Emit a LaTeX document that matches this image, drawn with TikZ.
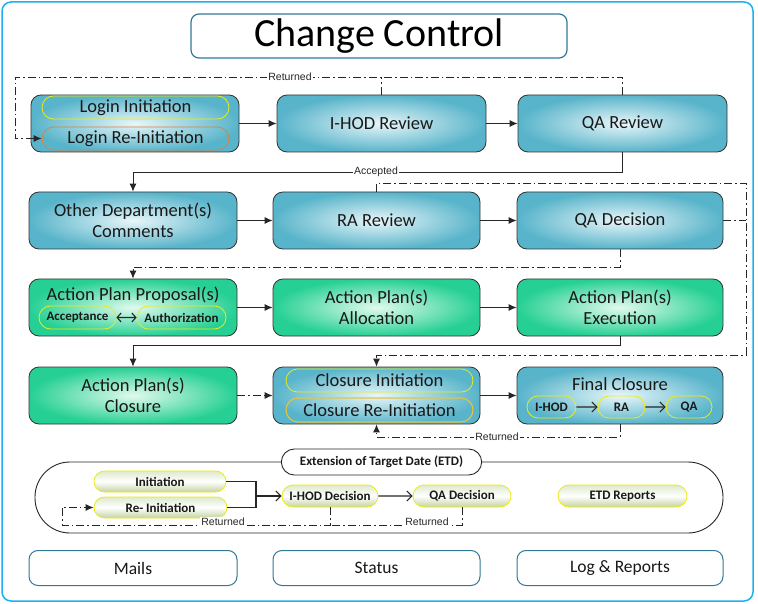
\documentclass[tikz,border=0pt]{standalone}
\usepackage{fontspec}
\setmainfont{Carlito}
\newfontfamily\arialf{Liberation Sans}
\usetikzlibrary{arrows.meta,shapes.misc}
\definecolor{bluedge}{RGB}{88,180,202}
\definecolor{bluein}{RGB}{232,246,249}
\definecolor{grnedge}{RGB}{38,208,148}
\definecolor{grnin}{RGB}{225,250,238}
\definecolor{teal}{RGB}{49,120,150}
\definecolor{framec}{RGB}{30,176,236}
\definecolor{pilly}{RGB}{236,236,20}
\definecolor{pillo}{RGB}{226,128,60}
\definecolor{pillg}{RGB}{228,196,64}
\definecolor{etdtop}{RGB}{222,234,205}
\definecolor{etdbot}{RGB}{196,212,160}
\definecolor{txt}{RGB}{25,25,25}
\tikzset{
  basebox/.style={draw=black!80, line width=0.8pt, rounded corners=10pt, minimum height=57pt,
    align=center, text=txt, font=\fontsize{18.5}{21}\selectfont, inner sep=2pt},
  bluebox/.style={basebox, inner color=bluein, outer color=bluedge},
  grnbox/.style={basebox, inner color=grnin, outer color=grnedge},
  boxtext/.style={text=txt, font=\fontsize{18.5}{21}\selectfont, inner sep=0pt},
  pill/.style={draw=pilly, line width=0.8pt, rounded rectangle, minimum height=23pt, text=txt,
    font=\fontsize{18.5}{21}\selectfont, inner sep=1pt},
  spill/.style={draw=pilly, line width=0.8pt, rounded rectangle, minimum height=22pt, text=txt,
    font=\bfseries\fontsize{13}{15}\selectfont, inner sep=1pt},
  etdpill/.style={draw=pilly, line width=0.8pt, rounded rectangle, minimum height=21pt, text=txt,
    top color=etdtop, bottom color=etdbot, middle color=white,
    font=\bfseries\fontsize{13}{15}\selectfont, inner sep=1pt},
  footbox/.style={draw=teal, line width=1pt, rounded corners=9pt, fill=white, minimum height=35pt,
    text=txt, font=\fontsize{17.5}{20}\selectfont},
  conn/.style={draw=black!85, line width=0.9pt},
  arr/.style={conn, -{Latex[length=8pt,width=7pt]}},
  barb/.style={conn, line width=1.1pt, -{Straight Barb[length=5pt,width=10pt]}},
  dd/.style={dash pattern=on 8pt off 3pt on 1.5pt off 3pt},
  lbl/.style={fill=white, inner sep=1pt, font=\arialf\fontsize{10.5}{12}\selectfont, text=black!85},
}
\begin{document}
\begin{tikzpicture}[x=1pt,y=-1pt]
\useasboundingbox (0,0) rectangle (758,604);
\draw[framec, line width=1.5pt, rounded corners=9pt] (2,2) rectangle (753,601);

% title
\node[draw=teal, line width=1.2pt, rounded corners=8pt, minimum width=376pt, minimum height=44pt,
  font=\fontsize{40}{44}\selectfont, text=black, inner sep=0pt] (title) at (379,36) {Change Control};

% row 1
\node[bluebox, minimum width=208pt] (login) at (135,123.5) {};
\node[pill, minimum width=189pt] (li) at (135.5,107.5) {Login Initiation};
\node[pill, draw=pillo, minimum width=189pt] (lri) at (135.5,138.5) {Login Re-Initiation};
\node[bluebox, minimum width=209pt] (ihod) at (381.5,123.5) {I-HOD Review};
\node[bluebox, minimum width=209pt] (qarev) at (622.5,123.5) {QA Review};

% row 2
\node[bluebox, minimum width=208pt] (other) at (133,220.5) {Other Department(s)\\Comments};
\node[bluebox, minimum width=207pt] (ra) at (376.5,220.5) {RA Review};
\node[bluebox, minimum width=206pt] (qadec) at (620,220.5) {QA Decision};

% row 3
\node[grnbox, minimum width=208pt] (app) at (133,307.5) {};
\node[boxtext] (apptxt) at (133,295) {Action Plan Proposal(s)};
\node[spill, minimum width=79pt, minimum height=23pt] (acc) at (77.5,317.5) {Acceptance};
\node[spill, minimum width=91pt, minimum height=23pt] (auth) at (181.5,317.5) {Authorization};
\node[grnbox, minimum width=207pt] (alloc) at (376.5,307.5) {Action Plan(s)\\Allocation};
\node[grnbox, minimum width=206pt] (exec) at (620,307.5) {Action Plan(s)\\Execution};

% row 4
\node[grnbox, minimum width=208pt] (apc) at (133,395.5) {Action Plan(s)\\Closure};
\node[bluebox, minimum width=207pt] (clos) at (376.5,395.5) {};
\node[pill, minimum width=189pt] (ci) at (379.5,380.5) {Closure Initiation};
\node[pill, draw=pillg, line width=1.1pt, minimum width=189pt, minimum height=24pt] (cri) at (379.5,410) {Closure Re-Initiation};
\node[bluebox, minimum width=206pt] (final) at (620,395.5) {};
\node[boxtext] (fintxt) at (620,384) {Final Closure};
\node[spill, minimum width=51pt] (fi) at (551.5,407) {I-HOD};
\node[spill, minimum width=49pt] (fr) at (621.5,407) {RA};
\node[spill, minimum width=48pt] (fq) at (689,407) {QA};

% ETD
\draw[black!85, line width=0.9pt, rounded corners=35pt] (35,462) rectangle (723,533);
\node[draw=black!85, line width=0.9pt, rounded rectangle, fill=white, minimum width=207pt, minimum height=26pt,
  font=\bfseries\fontsize{13}{15}\selectfont, text=txt] (etdl) at (381.5,462) {Extension of Target Date (ETD)};
\node[etdpill, minimum width=134pt] (init) at (160,481.5) {Initiation};
\node[etdpill, minimum width=135pt] (reinit) at (160.5,507.5) {Re- Initiation};
\node[etdpill, minimum width=98pt, minimum height=22pt] (ihodd) at (330,496) {I-HOD Decision};
\node[etdpill, minimum width=100pt, minimum height=22pt] (qad) at (462,496) {QA Decision};
\node[etdpill, minimum width=131pt, minimum height=22pt] (etdr) at (622.5,496) {ETD Reports};

% footer
\node[footbox, minimum width=208pt] (mails) at (133,568) {Mails};
\node[footbox, minimum width=207pt] (status) at (376.5,568) {Status};
\node[footbox, minimum width=206pt] (logs) at (620,568) {Log \& Reports};

% connectors row 1
\draw[arr] (login) -- (ihod);
\draw[arr] (ihod) -- (qarev);
\draw[arr, dd] (qarev.north) -- (qarev.north |- 0,77) -- (15,77) -- (15,138.5) -- (lri.west);
\draw[conn, dd] (ihod.north) -- (ihod.north |- 0,77);
\node[lbl] (ret1) at (290,77) {Returned};

% accepted
\draw[arr] (qarev.south) -- (qarev.south |- 0,172) -- (other.north |- 0,172) -- (other.north);
\node[lbl] (acclbl) at (376,172) {Accepted};

% row 2
\draw[arr] (other) -- (ra);
\draw[arr] (ra) -- (qadec);
\draw[arr, dd] (ra.north) -- (ra.north |- 0,183) -- (746,183) -- (746,355) -- (clos.north |- 0,355) -- (clos.north);
\draw[conn, dd] (qadec.east) -- (746,220.5);
\draw[arr, dd] (qadec.south) -- (qadec.south |- 0,267) -- (app.north |- 0,267) -- (app.north);

% row 3
\draw[conn, line width=1.1pt, {Straight Barb[length=4pt,width=9pt]}-{Straight Barb[length=4pt,width=9pt]}] (acc) -- (auth);
\draw[arr] (app) -- (alloc);
\draw[arr] (alloc) -- (exec);
\draw[arr] (exec.south) -- (exec.south |- 0,345) -- (apc.north |- 0,345) -- (apc.north);

% row 4
\draw[arr, dd] (apc) -- (clos);
\draw[arr] (clos) -- (final);
\draw[barb] (fi) -- (fr);
\draw[barb] (fr) -- (fq);
\draw[arr, dd] (final.south) -- (final.south |- 0,437) -- (clos.south |- 0,437) -- (clos.south);
\node[lbl] (ret2) at (497,437) {Returned};

% ETD connectors
\coordinate (j) at (256,496);
\draw[conn, line width=1.1pt] (init.east) -- (256,481.5) -- (256,507.5) -- (reinit.east);
\draw[barb] (j) -- (ihodd.west);
\draw[barb] (ihodd) -- (qad);
\draw[arr, dd] (ihodd.south) -- (ihodd.south |- 0,525) -- (62,525) -- (62,507.5) -- (reinit.west);
\draw[conn, dd] (qad.south) -- (qad.south |- 0,525) -- (ihodd.south |- 0,525);
\node[lbl] (ret3) at (223,522) {Returned};
\node[lbl] (ret4) at (427,522) {Returned};
\end{tikzpicture}
\end{document}
